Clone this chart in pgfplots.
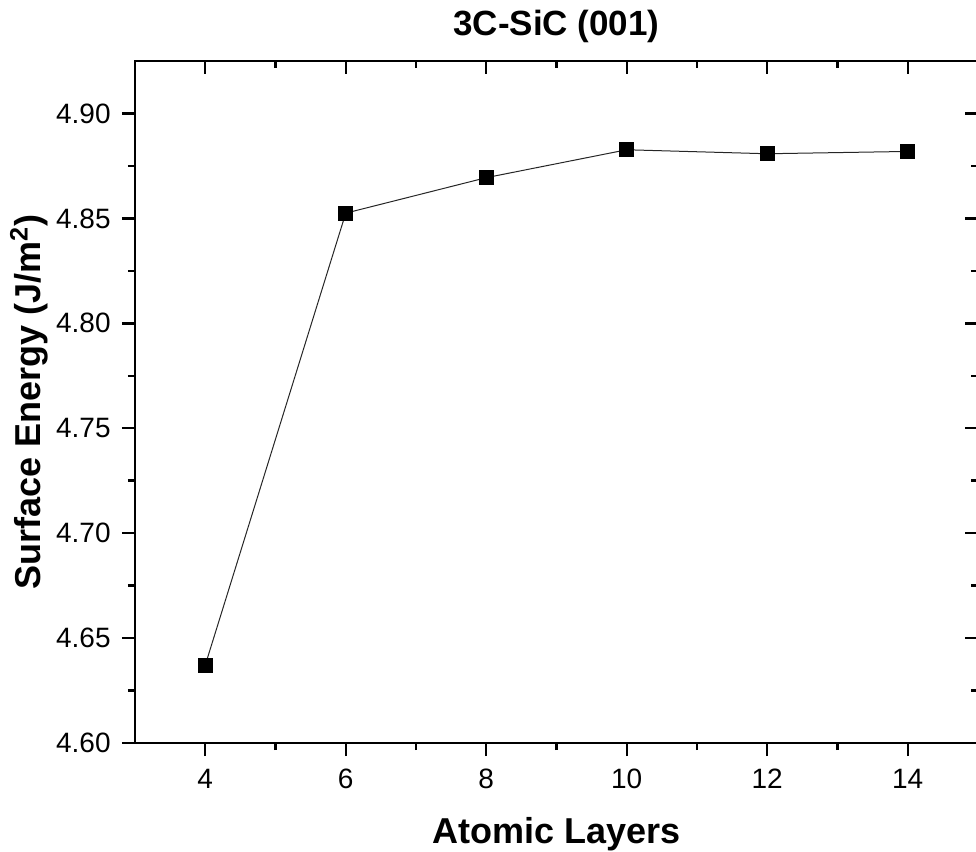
\documentclass[border=0pt]{standalone}
\usepackage{fontspec}
\setmainfont{Liberation Sans}
\usepackage{pgfplots}
\pgfplotsset{compat=1.18}

\begin{document}
\begin{tikzpicture}
\pgfplotsset{
  common/.style={
    width=421.5pt, height=341pt, scale only axis,
    xmin=3, xmax=15, ymin=4.60, ymax=4.925,
    xtick={4,6,8,10,12,14},
    ytick={4.60,4.65,4.70,4.75,4.80,4.85,4.90},
    minor x tick num=1, minor y tick num=1,
    axis line style={line width=1.3pt},
    major tick length=6.5pt, minor tick length=3.5pt,
    every tick/.style={line width=1.2pt, black},
  }
}
\begin{axis}[common, name=ax,
    tick align=outside,
    xtick pos=bottom, ytick pos=left,
    /pgf/number format/assume math mode=true,
    yticklabel style={/pgf/number format/fixed, /pgf/number format/fixed zerofill, /pgf/number format/precision=2, font=\fontsize{14}{16}\selectfont, anchor=east, inner sep=0pt, xshift=-5.5pt},
    xticklabel style={font=\fontsize{14}{16}\selectfont, anchor=base, inner sep=0pt, yshift=-16pt},
    title={3C-SiC (001)},
    title style={font=\fontsize{17.5}{20}\selectfont\bfseries, at={(axis description cs:0.5,1.0205)}, anchor=base},
    xlabel={Atomic Layers},
    xlabel style={font=\fontsize{18}{21}\selectfont\bfseries, at={(axis description cs:0.5,-0.148)}, anchor=base},
    ylabel={Surface Energy (J/m\textsuperscript{2})},
    ylabel style={font=\fontsize{18}{21}\selectfont\bfseries, at={(axis description cs:-0.1125,0.5)}, anchor=base},
]
\addplot[black!85, line width=0.5pt, mark=square*, mark size=3.5pt, mark options={solid, fill=black, draw=black, line width=0.3pt}]
  coordinates {
    (4, 4.6371)
    (6, 4.8525)
    (8, 4.8694)
    (10, 4.8827)
    (12, 4.8808)
    (14, 4.8819)
  };
\end{axis}
\begin{axis}[common,
    tick align=inside,
    xtick pos=top, ytick pos=right,
    xticklabels={}, yticklabels={},
]
\end{axis}
\pgfresetboundingbox
\path[use as bounding box] ([shift={(-67.5pt,-54.5pt)}]ax.south west) rectangle ([shift={(420.5pt,30.5pt)}]ax.north west);
\end{tikzpicture}
\end{document}
